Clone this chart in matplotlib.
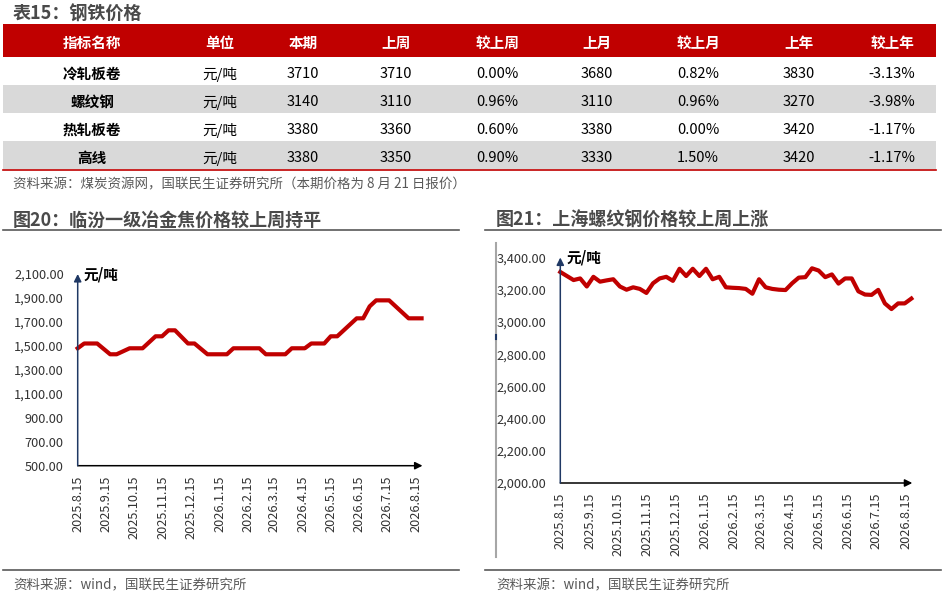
import matplotlib
matplotlib.use("Agg")
import matplotlib.pyplot as plt
import matplotlib.dates as mdates
from matplotlib.patches import Rectangle
from matplotlib.lines import Line2D
from matplotlib.ticker import FuncFormatter
import pandas as pd

plt.rcParams['font.family'] = ['Noto Sans CJK SC', 'DejaVu Sans']

# ---------------- data ----------------
table_title = "表15：钢铁价格"
table_header = ["指标名称", "单位", "本期", "上周", "较上周", "上月", "较上月", "上年", "较上年"]
row_names = ["冷轧板卷", "螺纹钢", "热轧板卷", "高线"]
units = ["元/吨", "元/吨", "元/吨", "元/吨"]
current = ["3710", "3140", "3380", "3380"]
last_week = ["3710", "3110", "3360", "3350"]
chg_week = ["0.00%", "0.96%", "0.60%", "0.90%"]
last_month = ["3680", "3110", "3380", "3330"]
chg_month = ["0.82%", "0.96%", "0.00%", "1.50%"]
last_year = ["3830", "3270", "3420", "3420"]
chg_year = ["-3.13%", "-3.98%", "-1.17%", "-1.17%"]
table_source = "资料来源：煤炭资源网，国联民生证券研究所（本期价格为 8 月 21 日报价）"

title_left = "图20：临汾一级冶金焦价格较上周持平"
title_right = "图21：上海螺纹钢价格较上周上涨"
chart_source = "资料来源：wind，国联民生证券研究所"
unit_label = "元/吨"

weeks = pd.date_range("2025-08-15", "2026-08-21", freq="7D")

coke_price = [1480, 1520, 1520, 1520, 1475, 1430, 1430, 1455, 1480, 1480,
              1480, 1530, 1580, 1580, 1630, 1630, 1575, 1520, 1520, 1475,
              1430, 1430, 1430, 1430, 1480, 1480, 1480, 1480, 1480, 1430,
              1430, 1430, 1430, 1480, 1480, 1480, 1520, 1520, 1520, 1580,
              1580, 1630, 1680, 1730, 1730, 1830, 1880, 1880, 1880, 1830,
              1780, 1730, 1730, 1730]
coke_yticks = [500, 700, 900, 1100, 1300, 1500, 1700, 1900, 2100]

rebar_price = [3310, 3285, 3260, 3270, 3220, 3280, 3250, 3258, 3265, 3220,
               3200, 3215, 3205, 3180, 3240, 3270, 3280, 3255, 3330, 3285,
               3330, 3285, 3330, 3265, 3280, 3215, 3212, 3210, 3205, 3175,
               3265, 3215, 3205, 3200, 3198, 3240, 3275, 3278, 3333, 3319,
               3278, 3295, 3238, 3270, 3270, 3190, 3170, 3168, 3199, 3115,
               3080, 3115, 3115, 3145]
rebar_yticks = [2000, 2200, 2400, 2600, 2800, 3000, 3200, 3400]

# ---------------- layout helpers ----------------
W, H = 946, 601
fig = plt.figure(figsize=(W / 100, H / 100), dpi=100)


def fx(px):
    return px / W


def fy(py):
    return 1 - py / H


RED = "#C00000"
GRAY_ROW = "#D9D9D9"
TITLE_C = "#4a4a4a"
SRC_C = "#595959"

# ---------------- table ----------------
fig.text(fx(13), fy(14), table_title, fontsize=13, fontweight="bold",
         color=TITLE_C, ha="left", va="center")
fig.add_artist(Rectangle((fx(3), fy(57)), fx(933), 33 / H, transform=fig.transFigure,
                         facecolor=RED, edgecolor="none"))
for top in (85, 141):
    fig.add_artist(Rectangle((fx(3), fy(top + 28)), fx(933), 28 / H,
                             transform=fig.transFigure, facecolor=GRAY_ROW, edgecolor="none"))
fig.add_artist(Line2D([fx(3), fx(936)], [fy(170), fy(170)], transform=fig.transFigure,
                      color=RED, lw=1.2))

col_x = [92, 220, 303, 396, 497, 597, 698, 799, 892]
for cx, h in zip(col_x, table_header):
    fig.text(fx(cx), fy(43), h, fontsize=10.5, fontweight="bold", color="white",
             ha="center", va="center")

columns = [row_names, units, current, last_week, chg_week, last_month, chg_month,
           last_year, chg_year]
row_y = [74, 102, 130, 158]
for ci, (cx, col) in enumerate(zip(col_x, columns)):
    for ry, val in zip(row_y, col):
        fig.text(fx(cx), fy(ry), val, fontsize=10.5,
                 fontweight="bold" if ci == 0 else "normal",
                 color="black", ha="center", va="center")

fig.text(fx(13), fy(184), table_source, fontsize=9.7, color=SRC_C, ha="left", va="center")

# ---------------- chart titles / rules / sources ----------------
fig.text(fx(13), fy(220), title_left, fontsize=13, fontweight="bold", color=TITLE_C,
         ha="left", va="center")
fig.text(fx(496), fy(220), title_right, fontsize=13, fontweight="bold", color=TITLE_C,
         ha="left", va="center")
for x0, x1 in ((3, 459), (485, 941)):
    for yy in (230, 570):
        fig.add_artist(Line2D([fx(x0), fx(x1)], [fy(yy), fy(yy)], transform=fig.transFigure,
                              color="#595959", lw=1.2))
fig.text(fx(13), fy(585), chart_source, fontsize=9.7, color=SRC_C, ha="left", va="center")
fig.text(fx(496), fy(585), chart_source, fontsize=9.7, color=SRC_C, ha="left", va="center")

# gray frame line on the right chart
fig.add_artist(Line2D([fx(495.7), fx(495.7)], [fy(243), fy(557)], transform=fig.transFigure,
                      color="#A6A6A6", lw=1.5))
fig.add_artist(Line2D([fx(495.7), fx(495.7)], [fy(335), fy(339)], transform=fig.transFigure,
                      color="#1F3864", lw=1.5))


def date_fmt(x, pos):
    d = mdates.num2date(x)
    return f"{d.year}.{d.month}.{d.day}"


def make_chart(rect, values, yticks):
    ax = fig.add_axes(rect)
    ax.plot(weeks, values, color=RED, lw=3, solid_joinstyle="round", clip_on=False)
    ax.set_xlim(pd.Timestamp("2025-08-15"), pd.Timestamp("2026-08-22"))
    ax.set_ylim(yticks[0], yticks[-1])
    ax.set_yticks(yticks)
    ax.yaxis.set_major_formatter(FuncFormatter(lambda v, p: f"{v:,.2f}"))
    ax.xaxis.set_major_locator(mdates.MonthLocator(bymonthday=15))
    ax.xaxis.set_major_formatter(FuncFormatter(date_fmt))
    for s in ax.spines.values():
        s.set_visible(False)
    ax.tick_params(axis="y", length=0, pad=10, labelsize=9.2, labelcolor="#333333")
    ax.tick_params(axis="x", length=0, pad=7, labelsize=9.2, labelcolor="#333333",
                   labelrotation=90)
    ax.patch.set_alpha(0)
    ax.annotate("", xy=(1.0, 0), xytext=(0, 0), xycoords="axes fraction",
                arrowprops=dict(arrowstyle="-|>", color="black", lw=1.1,
                                mutation_scale=11, shrinkA=0, shrinkB=0))
    ax.annotate("", xy=(0, 1.0), xytext=(0, 0), xycoords="axes fraction",
                arrowprops=dict(arrowstyle="-|>", color="#1F3864", lw=1.1,
                                mutation_scale=11, shrinkA=0, shrinkB=0))
    ax.text(0.018, 1.0, unit_label, transform=ax.transAxes, fontsize=10.5,
            fontweight="bold", color="black", ha="left", va="center")
    return ax


left_rect = [fx(77.7), fy(465.7), fx(422.5 - 77.7), (465.7 - 274) / H]
right_rect = [fx(560.3), fy(483), fx(912.3 - 560.3), (483 - 257.5) / H]
make_chart(left_rect, coke_price, coke_yticks)
make_chart(right_rect, rebar_price, rebar_yticks)

fig.savefig("out.png", dpi=100)
